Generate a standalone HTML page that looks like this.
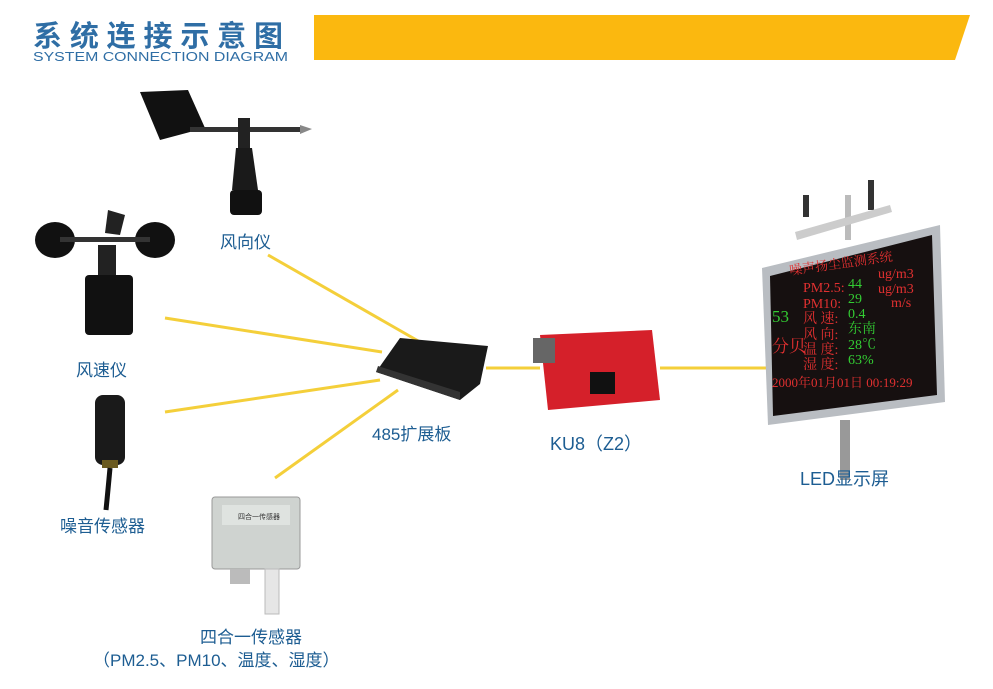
<!DOCTYPE html>
<html><head><meta charset="utf-8"><style>
body{margin:0;width:993px;height:684px;background:#fff;overflow:hidden;font-family:"Liberation Sans","Noto Sans CJK SC",sans-serif}
</style></head><body>
<svg width="993" height="684" viewBox="0 0 993 684" xmlns="http://www.w3.org/2000/svg" font-family="Liberation Sans, Noto Sans CJK SC, sans-serif">
<text x="33" y="46" font-size="29" font-weight="bold" fill="#2f6ea5" letter-spacing="3" textLength="253">系统连接示意图</text>
<text x="33" y="61" font-size="13" fill="#2f6ea5" textLength="255" lengthAdjust="spacingAndGlyphs">SYSTEM CONNECTION DIAGRAM</text>
<polygon points="314,15 970,15 955,60 314,60" fill="#fbb80f"/>
<g stroke="#f4cf3a" stroke-width="3" fill="none">
<line x1="268" y1="255" x2="420" y2="342"/>
<line x1="165" y1="318" x2="382" y2="352"/>
<line x1="165" y1="412" x2="380" y2="380"/>
<line x1="275" y1="478" x2="398" y2="390"/>
<line x1="486" y1="368" x2="540" y2="368"/>
<line x1="660" y1="368" x2="768" y2="368"/>
</g>
<!-- wind vane -->
<polygon points="140,92 188,90 205,128 160,140" fill="#111"/>
<rect x="190" y="127" width="110" height="5" fill="#333"/>
<polygon points="300,125 312,129 300,134" fill="#888"/>
<rect x="238" y="118" width="12" height="30" fill="#222"/>
<path d="M236,148 L252,148 L258,190 L232,190 Z" fill="#1a1a1a"/>
<rect x="230" y="190" width="32" height="25" rx="4" fill="#111"/>
<text x="220" y="248" font-size="17" fill="#1d5d92">风向仪</text>
<!-- anemometer -->
<ellipse cx="55" cy="240" rx="20" ry="18" fill="#111"/>
<ellipse cx="155" cy="240" rx="20" ry="18" fill="#111"/>
<polygon points="108,210 125,215 120,235 105,233" fill="#222"/>
<rect x="60" y="237" width="90" height="5" fill="#333"/>
<rect x="98" y="245" width="18" height="30" fill="#222"/>
<rect x="85" y="275" width="48" height="60" rx="4" fill="#111"/>
<text x="76" y="376" font-size="17" fill="#1d5d92">风速仪</text>
<!-- noise sensor -->
<rect x="95" y="395" width="30" height="70" rx="8" fill="#1a1a1a"/>
<rect x="102" y="460" width="16" height="8" fill="#6a5a20"/>
<path d="M110,468 Q108,490 106,510" stroke="#111" stroke-width="5" fill="none"/>
<text x="60" y="532" font-size="17" fill="#1d5d92">噪音传感器</text>
<!-- 4-in-1 -->
<rect x="212" y="497" width="88" height="72" rx="3" fill="#cfd3d0" stroke="#999"/>
<rect x="222" y="505" width="68" height="20" fill="#dfe3e0"/>
<text x="238" y="519" font-size="7" fill="#333">四合一传感器</text>
<rect x="230" y="569" width="20" height="15" fill="#bbb"/>
<rect x="265" y="569" width="14" height="45" fill="#e6e6e6" stroke="#bbb"/>
<text x="200" y="643" font-size="17" fill="#1d5d92">四合一传感器</text>
<text x="93" y="666" font-size="17" fill="#1d5d92">（PM2.5、PM10、温度、湿度）</text>
<!-- 485 -->
<polygon points="376,372 400,338 488,346 480,384 460,400" fill="#1a1a1a"/>
<polygon points="376,372 460,400 460,392 378,366" fill="#333"/>
<text x="372" y="440" font-size="17" fill="#1d5d92">485扩展板</text>
<!-- KU8 -->
<polygon points="540,335 652,330 660,400 548,410" fill="#d5202a"/>
<rect x="533" y="338" width="22" height="25" fill="#666"/>
<rect x="590" y="372" width="25" height="22" fill="#111"/>
<text x="550" y="450" font-size="18" fill="#1d5d92">KU8（Z2）</text>
<!-- LED -->
<rect x="840" y="420" width="10" height="60" fill="#999"/>
<rect x="845" y="195" width="6" height="45" fill="#bbb"/>
<rect x="803" y="195" width="6" height="22" fill="#333"/>
<rect x="868" y="180" width="6" height="30" fill="#333"/>
<polygon points="795,232 890,205 892,212 797,240" fill="#ccc"/>
<polygon points="762,268 940,225 945,402 768,425" fill="#b9bdc2"/>
<polygon points="770,276 932,235 937,395 773,416" fill="#161010"/>
<g font-family="Liberation Serif, Noto Serif CJK SC, serif" font-size="14">
<text x="790" y="275" fill="#e03030" font-size="13" transform="rotate(-8 790 275)">噪声扬尘监测系统</text>
<text x="803" y="292" fill="#e03030">PM2.5:</text><text x="848" y="288" fill="#3c3">44</text><text x="878" y="278" fill="#e03030">ug/m3</text>
<text x="803" y="308" fill="#e03030">PM10:</text><text x="848" y="303" fill="#3c3">29</text><text x="878" y="293" fill="#e03030">ug/m3</text>
<text x="891" y="307" fill="#e03030">m/s</text>
<text x="772" y="322" fill="#3c3" font-size="17">53</text>
<text x="803" y="323" fill="#e03030">风 速:</text><text x="848" y="318" fill="#3c3">0.4</text>
<text x="803" y="339" fill="#e03030">风 向:</text><text x="848" y="333" fill="#3c3">东南</text>
<text x="772" y="352" fill="#e03030" font-size="17">分贝</text>
<text x="803" y="354" fill="#e03030">温 度:</text><text x="848" y="349" fill="#3c3">28℃</text>
<text x="803" y="369" fill="#e03030">湿 度:</text><text x="848" y="364" fill="#3c3">63%</text>
<text x="772" y="387" fill="#e03030" font-size="13">2000年01月01日  00:19:29</text>
</g>
<text x="800" y="485" font-size="18" fill="#1d5d92">LED显示屏</text>
</svg>
</body></html>
